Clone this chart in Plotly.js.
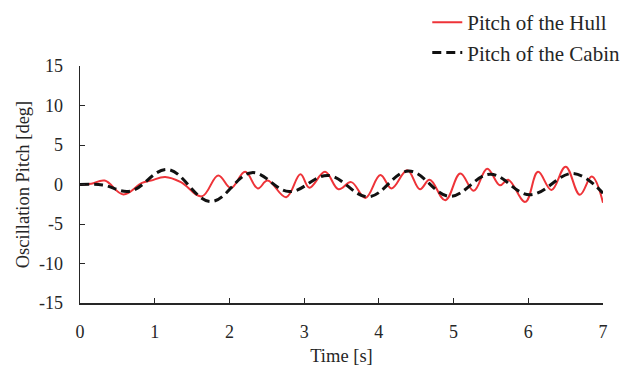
<!DOCTYPE html>
<html>
<head>
<meta charset="utf-8">
<script src="https://cdn.plot.ly/plotly-3.0.1.min.js"></script>
<style>html,body{margin:0;padding:0;background:#fff;}#chart{width:636px;height:372px;}</style>
</head>
<body>
<div id="chart"></div>
<script>
// Pitch of the Hull (red, solid): time [s] and pitch [deg]
const hullTime = [0, 0.15, 0.33, 0.58, 0.83, 0.95, 1.14, 1.35, 1.63, 1.85, 2.02, 2.21, 2.38, 2.51, 2.76, 2.95, 3.07, 3.28, 3.46, 3.63, 3.82, 4.02, 4.17, 4.38, 4.55, 4.68, 4.89, 5.09, 5.27, 5.45, 5.62, 5.73, 5.96, 6.13, 6.31, 6.5, 6.69, 6.85, 7.0];
const hullPitch = [0, 0.1, 0.5, -1.25, 0.2, 0.5, 0.95, 0.3, -1.5, 1.15, -0.45, 1.6, -0.5, 0.5, -1.6, 1.3, -0.4, 1.6, -0.6, 0.3, -1.7, 1.2, -0.5, 1.8, -0.6, 0.6, -2.0, 1.4, -0.8, 2.0, -0.1, 0.6, -2.2, 1.6, -0.7, 2.25, -1.3, 1.0, -2.3];

// Pitch of the Cabin (black, dashed)
const cabinTime = [0, 0.3, 0.67, 1.17, 1.75, 2.3, 2.8, 3.32, 3.86, 4.4, 4.95, 5.49, 6.02, 6.6, 7.0];
const cabinPitch = [0, -0.05, -0.85, 1.9, -2.15, 1.5, -0.9, 1.15, -1.55, 1.7, -1.5, 1.3, -1.3, 1.4, -1.1];

const seriesNames = ['Pitch of the Hull', 'Pitch of the Cabin'];
const xTicks = [0, 1, 2, 3, 4, 5, 6, 7];
const yTicks = [-15, -10, -5, 0, 5, 10, 15];

const FONT = 'Liberation Serif, Times New Roman, serif';

const traces = [
  {x: hullTime, y: hullPitch, name: seriesNames[0], type: 'scatter', mode: 'lines',
   line: {color: '#EE3338', width: 2, shape: 'spline', smoothing: 1.1}},
  {x: cabinTime, y: cabinPitch, name: seriesNames[1], type: 'scatter', mode: 'lines',
   line: {color: '#111111', width: 3, dash: '9px,5px', shape: 'spline', smoothing: 1.1}}
];

const layout = {
  width: 636, height: 372,
  margin: {l: 80, r: 33, t: 66, b: 69, autoexpand: false},
  paper_bgcolor: '#ffffff', plot_bgcolor: '#ffffff',
  font: {family: FONT, size: 18, color: '#262626'},
  showlegend: true,
  legend: {x: 0.664, y: 1.27, xanchor: 'left', yanchor: 'top', bgcolor: 'rgba(0,0,0,0)',
           font: {family: FONT, size: 21, color: '#262626'}, tracegroupgap: 0},
  xaxis: {range: [0, 7], tickvals: xTicks, ticktext: xTicks.map(String), showgrid: false, zeroline: false,
          showline: true, linecolor: '#262626', linewidth: 1.5, ticks: 'inside', ticklen: 5, tickcolor: '#262626',
          ticklabelstandoff: 12,
          title: {text: 'Time [s]', font: {family: FONT, size: 18.5, color: '#262626'}, standoff: 8}},
  yaxis: {range: [-15, 15], tickvals: yTicks, ticktext: yTicks.map(String), showgrid: false, zeroline: false,
          showline: true, linecolor: '#262626', linewidth: 1.5, ticks: 'inside', ticklen: 5, tickcolor: '#262626',
          ticklabelstandoff: 12,
          title: {text: 'Oscillation Pitch [deg]', font: {family: FONT, size: 18.5, color: '#262626'}, standoff: 4}}
};

Plotly.newPlot('chart', traces, layout, {displayModeBar: false, staticPlot: true});
</script>
</body>
</html>
